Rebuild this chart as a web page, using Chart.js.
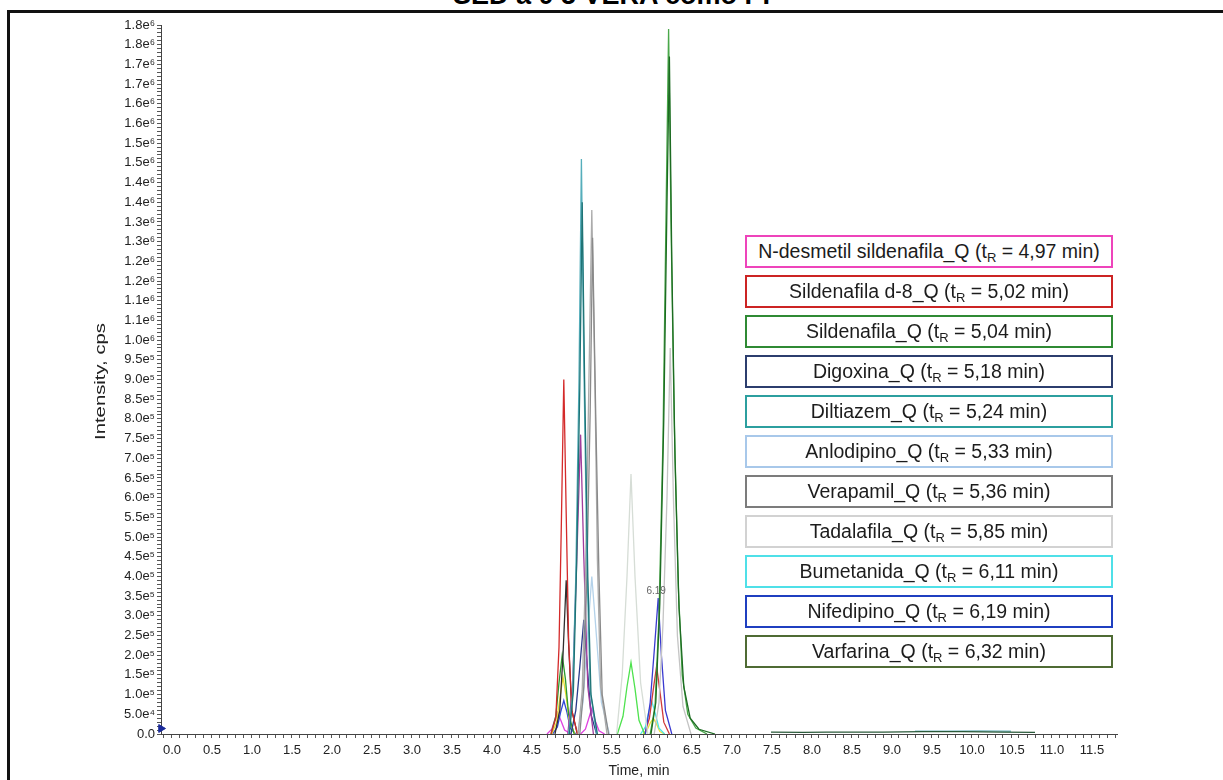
<!DOCTYPE html>
<html>
<head>
<meta charset="utf-8">
<title>Cromatograma</title>
<script src="https://cdn.jsdelivr.net/npm/chart.js@4.4.1/dist/chart.umd.min.js"></script>
<style>
  html, body { margin: 0; padding: 0; background: #fff; overflow: hidden; }
  #wrap { position: relative; width: 1223px; height: 780px; overflow: hidden; }
  #frame { position: absolute; left: 7px; top: 10px; width: 1230px; height: 790px;
           border-left: 3px solid #111; border-top: 3px solid #111; }
  #title { position: absolute; left: 0; width: 1223px; top: -18px; text-align: center;
           font: bold 27px "Liberation Sans", Arial, sans-serif; line-height: 27px; color: #000; }
  canvas { position: absolute; left: 0; top: 0; }
  .lg { position: absolute; left: 745px; width: 364px; height: 29px; border: 2px solid #000;
        text-align: center; font: 19.5px "Liberation Sans", Arial, sans-serif; line-height: 29px;
        color: #1c1c1c; background: #fff; white-space: nowrap; }
  .lg sub { font-size: 13px; vertical-align: -4px; line-height: 0; }
</style>
</head>
<body>
<div id="wrap">
  <div id="frame"></div>
  <div id="title">SED a 0 5 VERA como PI</div>
  <canvas id="c" width="1223" height="780"></canvas>
  <div id="legend"></div>
</div>
<script>
// Axis labels
const xAxisTitle = "Time, min";
const yAxisTitle = "Intensity, cps";
const xTickLabels = ["0.0","0.5","1.0","1.5","2.0","2.5","3.0","3.5","4.0","4.5","5.0","5.5",
                     "6.0","6.5","7.0","7.5","8.0","8.5","9.0","9.5","10.0","10.5","11.0","11.5"];
const yTickLabels = ["0.0","5.0e⁴","1.0e⁵","1.5e⁵","2.0e⁵","2.5e⁵","3.0e⁵","3.5e⁵","4.0e⁵","4.5e⁵",
                     "5.0e⁵","5.5e⁵","6.0e⁵","6.5e⁵","7.0e⁵","7.5e⁵","8.0e⁵","8.5e⁵","9.0e⁵","9.5e⁵",
                     "1.0e⁶","1.1e⁶","1.1e⁶","1.2e⁶","1.2e⁶","1.3e⁶","1.3e⁶","1.4e⁶","1.4e⁶","1.5e⁶",
                     "1.5e⁶","1.6e⁶","1.6e⁶","1.7e⁶","1.7e⁶","1.8e⁶","1.8e⁶"];

// Compounds and retention times (min)
const compounds = ["N-desmetil sildenafila_Q","Sildenafila d-8_Q","Sildenafila_Q","Digoxina_Q",
                   "Diltiazem_Q","Anlodipino_Q","Verapamil_Q","Tadalafila_Q","Bumetanida_Q",
                   "Nifedipino_Q","Varfarina_Q"];
const retentionTimes = ["4,97","5,02","5,04","5,18","5,24","5,33","5,36","5,85","6,11","6,19","6,32"];
const compoundColors = ["#ee44bb","#cc2424","#2f8a34","#2c3e6e","#2c9f9f","#a8c8ea","#7c7c7c",
                        "#d2d2d2","#4fe0e8","#1f3fc0","#4f6b34"];

// Ion traces: time (min) and intensity (cps)
const tMagA = [4.80, 4.86, 4.90, 4.93, 4.97, 5.02, 5.10];
const vMagA = [0, 12000, 38000, 55000, 36000, 10000, 0];
const tRedA = [4.85, 4.91, 4.95, 4.98, 5.01, 5.04, 5.07, 5.11, 5.18];
const vRedA = [0, 40000, 220000, 540000, 900000, 560000, 240000, 60000, 0];
const tGrnA = [4.85, 4.91, 4.95, 4.99, 5.03, 5.07, 5.14];
const vGrnA = [0, 45000, 130000, 200000, 140000, 50000, 0];
const tYelA = [4.86, 4.92, 4.96, 5.00, 5.04, 5.08, 5.15];
const vYelA = [0, 30000, 90000, 145000, 95000, 30000, 0];
const tBlkA = [4.90, 4.96, 5.00, 5.04, 5.07, 5.11, 5.18];
const vBlkA = [0, 60000, 200000, 390000, 230000, 60000, 0];
const tBluA = [4.87, 4.93, 4.97, 5.01, 5.05, 5.09, 5.16];
const vBluA = [0, 18000, 55000, 85000, 55000, 15000, 0];
const tTeal = [5.07, 5.12, 5.16, 5.20, 5.23, 5.26, 5.30, 5.34, 5.42];
const vTeal = [0, 100000, 400000, 900000, 1460000, 950000, 430000, 110000, 0];
const tTealD = [5.08, 5.13, 5.17, 5.21, 5.24, 5.27, 5.31, 5.35, 5.43];
const vTealD = [0, 110000, 430000, 880000, 1350000, 900000, 400000, 100000, 0];
const tPur = [5.06, 5.12, 5.17, 5.22, 5.26, 5.31, 5.38];
const vPur = [0, 120000, 430000, 760000, 450000, 120000, 0];
const tNavy = [5.10, 5.16, 5.21, 5.26, 5.30, 5.35, 5.42];
const vNavy = [0, 60000, 170000, 290000, 180000, 50000, 0];
const tGray = [5.19, 5.24, 5.28, 5.32, 5.36, 5.40, 5.43, 5.47, 5.55];
const vGray = [0, 110000, 400000, 850000, 1330000, 880000, 440000, 120000, 0];
const tGrayD = [5.21, 5.26, 5.30, 5.34, 5.37, 5.41, 5.45, 5.49, 5.57];
const vGrayD = [0, 120000, 420000, 820000, 1260000, 800000, 400000, 100000, 0];
const tLBlu = [5.18, 5.25, 5.31, 5.36, 5.41, 5.48, 5.58];
const vLBlu = [0, 80000, 260000, 400000, 270000, 80000, 0];
const tMagB = [5.22, 5.28, 5.32, 5.36, 5.40, 5.45, 5.52];
const vMagB = [0, 12000, 38000, 65000, 35000, 8000, 0];
const tTada = [5.67, 5.74, 5.80, 5.85, 5.90, 5.97, 6.06];
const vTada = [0, 150000, 400000, 660000, 400000, 130000, 0];
const tLime = [5.68, 5.75, 5.80, 5.85, 5.90, 5.95, 6.02];
const vLime = [0, 45000, 120000, 182000, 115000, 35000, 0];
const tCyan = [5.97, 6.03, 6.07, 6.11, 6.15, 6.20, 6.27];
const vCyan = [0, 18000, 55000, 83000, 55000, 15000, 0];
const tYelB = [6.00, 6.05, 6.09, 6.13, 6.17, 6.21, 6.27];
const vYelB = [0, 10000, 28000, 40000, 25000, 6000, 0];
const tRedB = [6.02, 6.08, 6.13, 6.17, 6.21, 6.26, 6.33];
const vRedB = [0, 40000, 115000, 172000, 110000, 30000, 0];
const tNife = [6.03, 6.09, 6.14, 6.19, 6.23, 6.28, 6.36];
const vNife = [0, 80000, 210000, 345000, 200000, 60000, 0];
const tVarf = [6.09, 6.15, 6.20, 6.25, 6.29, 6.32, 6.35, 6.39, 6.44, 6.49, 6.56, 6.66, 6.80];
const vVarf = [0, 70000, 300000, 750000, 1350000, 1790000, 1300000, 800000, 380000, 150000, 50000, 15000, 0];
const tVarfD = [6.10, 6.16, 6.21, 6.26, 6.30, 6.33, 6.36, 6.40, 6.45, 6.51, 6.59, 6.70, 6.90];
const vVarfD = [0, 80000, 330000, 800000, 1350000, 1720000, 1200000, 700000, 320000, 120000, 40000, 12000, 0];
const tGrayB = [6.14, 6.20, 6.25, 6.30, 6.34, 6.38, 6.43, 6.50, 6.60];
const vGrayB = [0, 80000, 280000, 600000, 980000, 600000, 250000, 70000, 0];
const tNoiseG = [7.60, 8.00, 8.30, 9.00, 9.50, 10.00, 10.50, 10.90];
const vNoiseG = [5000, 4000, 5000, 5000, 6000, 6000, 5000, 4000];
const tNoiseT = [9.40, 9.80, 10.20, 10.60];
const vNoiseT = [7000, 7000, 8000, 7000];

const xMin = -0.025, xMax = 11.925;
const yMax = 1800000;

const traces = [
  { t: tVarfD, v: vVarfD, color: "#1d6b22" },
  { t: tVarf,  v: vVarf,  color: "#4aa84a" },
  { t: tTealD, v: vTealD, color: "#1f7476" },
  { t: tTeal,  v: vTeal,  color: "#55aebb" },
  { t: tGrayD, v: vGrayD, color: "#8a8a8a" },
  { t: tGray,  v: vGray,  color: "#ababab" },
  { t: tRedA,  v: vRedA,  color: "#d42a2a" },
  { t: tPur,   v: vPur,   color: "#a03c9c" },
  { t: tGrayB, v: vGrayB, color: "#c4c4c4" },
  { t: tTada,  v: vTada,  color: "#d6ddd6" },
  { t: tLBlu,  v: vLBlu,  color: "#b4d2ea" },
  { t: tBlkA,  v: vBlkA,  color: "#303030" },
  { t: tNavy,  v: vNavy,  color: "#2a3a8a" },
  { t: tNife,  v: vNife,  color: "#3a3ad0" },
  { t: tGrnA,  v: vGrnA,  color: "#2c9a2c" },
  { t: tLime,  v: vLime,  color: "#4ee24e" },
  { t: tYelA,  v: vYelA,  color: "#e6de30" },
  { t: tRedB,  v: vRedB,  color: "#d03a3a" },
  { t: tBluA,  v: vBluA,  color: "#3048d8" },
  { t: tCyan,  v: vCyan,  color: "#50e4e4" },
  { t: tYelB,  v: vYelB,  color: "#ece23a" },
  { t: tMagA,  v: vMagA,  color: "#e040e0" },
  { t: tMagB,  v: vMagB,  color: "#e040e0" },
  { t: tNoiseG, v: vNoiseG, color: "#2a5a3a" },
  { t: tNoiseT, v: vNoiseT, color: "#7ab8c0" }
];

const datasets = traces.map(tr => ({
  data: tr.t.map((x, i) => ({ x: x, y: tr.v[i] })),
  borderColor: tr.color,
  borderWidth: 1.3,
  pointRadius: 0,
  fill: false,
  tension: 0
}));

// period marker on the time axis origin
datasets.push({
  data: [{ x: xMin, y: 14000 }],
  showLine: false,
  pointStyle: "triangle",
  rotation: 90,
  pointRadius: 4.5,
  backgroundColor: "#1a2a9a",
  borderColor: "#1a2a9a",
  clip: false
});

// apex label for the Nifedipino trace
const apexIdx = vNife.indexOf(Math.max(...vNife));
const apexLabel = {
  id: "apexLabel",
  afterDatasetsDraw(chart) {
    const { ctx, scales } = chart;
    const x = scales.x.getPixelForValue(tNife[apexIdx]);
    const y = scales.y.getPixelForValue(vNife[apexIdx]);
    ctx.save();
    ctx.font = '10px "Liberation Sans", Arial, sans-serif';
    ctx.fillStyle = "#666";
    ctx.textAlign = "center";
    ctx.textBaseline = "bottom";
    ctx.fillText(tNife[apexIdx].toFixed(2), x - 2, y - 2);
    ctx.restore();
  }
};

// tall, narrow vertical axis title
const yTitle = {
  id: "yTitle",
  afterDraw(chart) {
    const { ctx, chartArea } = chart;
    ctx.save();
    ctx.translate(101, (chartArea.top + chartArea.bottom) / 2 + 2);
    ctx.rotate(-Math.PI / 2);
    ctx.scale(1.45, 1);
    ctx.font = '14px "Liberation Sans", Arial, sans-serif';
    ctx.fillStyle = "#222";
    ctx.textAlign = "center";
    ctx.textBaseline = "middle";
    ctx.fillText(yAxisTitle, 0, 0);
    ctx.restore();
  }
};

const tickFont = { family: '"Liberation Sans", Arial, sans-serif', size: 13 };
const titleFont = { family: '"Liberation Sans", Arial, sans-serif', size: 14 };

new Chart(document.getElementById("c"), {
  type: "line",
  data: { datasets },
  plugins: [apexLabel, yTitle],
  options: {
    responsive: false,
    animation: false,
    events: [],
    layout: { padding: { left: 89, right: 106, top: 25, bottom: 0 } },
    plugins: { legend: { display: false }, tooltip: { enabled: false } },
    scales: {
      x: {
        type: "linear",
        min: xMin, max: xMax,
        afterFit: s => { s.height = 46; },
        afterBuildTicks: s => {
          const ticks = [];
          for (let k = 0; k <= 119; k++) ticks.push({ value: k / 10 });
          s.ticks = ticks;
        },
        ticks: {
          autoSkip: false, maxRotation: 0, padding: 5, labelOffset: 9, color: "#222", font: tickFont,
          callback: v => {
            const k = Math.round(v * 10);
            return k % 5 === 0 && k / 5 < xTickLabels.length ? xTickLabels[k / 5] : "";
          }
        },
        grid: { drawOnChartArea: false, tickLength: 4, color: "#555", tickWidth: 1 },
        border: { color: "#444", width: 1 },
        title: { display: true, text: xAxisTitle, color: "#222", font: titleFont, padding: { top: 4, bottom: 0 } }
      },
      y: {
        type: "linear",
        min: 0, max: yMax,
        afterFit: s => { s.width = 72; },
        afterBuildTicks: s => {
          const ticks = [];
          for (let k = 0; k <= 180; k++) ticks.push({ value: k * 10000 });
          s.ticks = ticks;
        },
        ticks: {
          autoSkip: false, padding: 2, color: "#222", font: tickFont,
          callback: v => {
            const k = Math.round(v / 10000);
            return k % 5 === 0 ? yTickLabels[k / 5] : "";
          }
        },
        grid: { drawOnChartArea: false, tickLength: 4, color: "#555", tickWidth: 1 },
        border: { color: "#444", width: 1 },
        title: { display: false }
      }
    }
  }
});

// compound legend boxes
const legend = document.getElementById("legend");
compounds.forEach((name, i) => {
  const box = document.createElement("div");
  box.className = "lg";
  box.style.top = (235 + i * 40) + "px";
  box.style.borderColor = compoundColors[i];
  box.innerHTML = name + " (t<sub>R</sub> = " + retentionTimes[i] + " min)";
  legend.appendChild(box);
});
</script>
</body>
</html>
